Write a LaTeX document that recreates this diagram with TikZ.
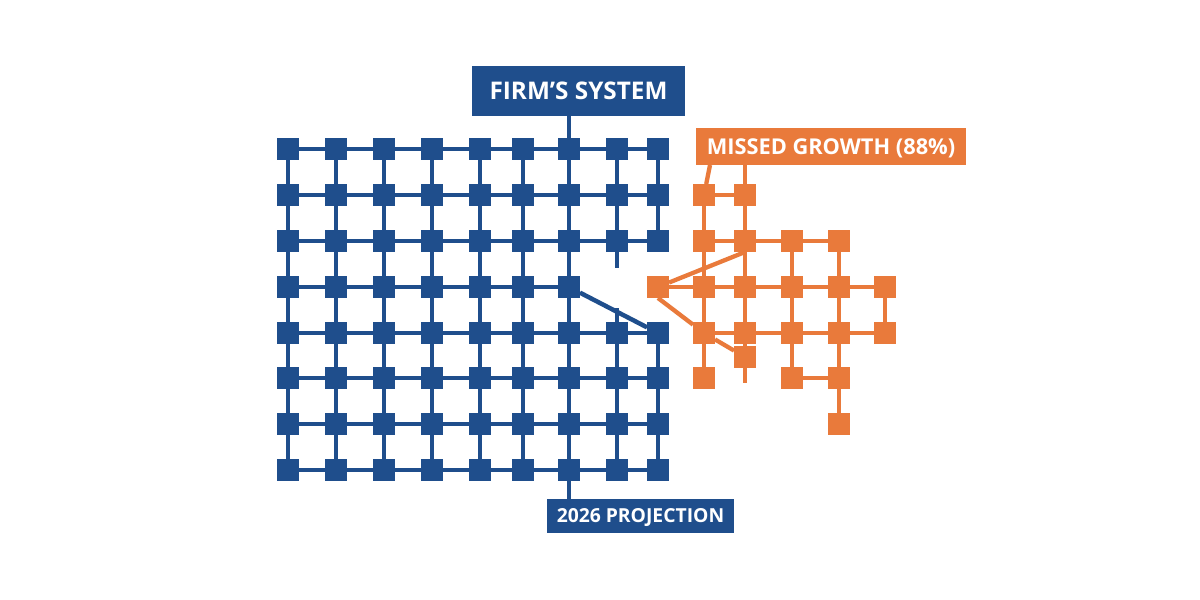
\documentclass[tikz,border=0pt]{standalone}
\usepackage{fontspec}
\setmainfont{Open Sans}
\usetikzlibrary{backgrounds}
\definecolor{nblue}{HTML}{1F4E8C}
\definecolor{norange}{HTML}{E97A3B}
\begin{document}
\begin{tikzpicture}[x=1pt,y=-1pt,
  bsq/.style={fill=nblue,draw=none,minimum size=22pt,inner sep=0pt,outer sep=0pt},
  osq/.style={fill=norange,draw=none,minimum size=22pt,inner sep=0pt,outer sep=0pt},
  bln/.style={draw=nblue,line width=4.5pt},
  oln/.style={draw=norange,line width=4.3pt},
  lbox/.style={text=white,inner sep=0pt,outer sep=0pt,font=\bfseries,text depth=0pt}]
\useasboundingbox (0,0) rectangle (1200,600);

% blue grid
\foreach \c/\x in {1/288,2/336,3/384,4/432,5/480,6/523,7/569,8/617,9/658}{
  \foreach \r/\y in {1/149,2/195,3/241,4/287,5/333,6/378,7/424,8/470}{
    \ifnum\r=4
      \ifnum\c>7 \else \node[bsq] (b\c-\r) at (\x,\y) {}; \fi
    \else
      \node[bsq] (b\c-\r) at (\x,\y) {};
    \fi
  }
}
% labels
\node[lbox,fill=nblue,minimum width=213pt,minimum height=50pt,text height=17.3pt] (title) at (578.5,91)
  {\fontsize{24.3}{24.3}\selectfont FIRM’S SYSTEM};
\node[lbox,fill=nblue,minimum width=187pt,minimum height=34pt,text height=13.8pt] (proj) at (640.5,516)
  {\fontsize{19.3}{19.3}\selectfont 2026 PROJECTION};
\node[lbox,fill=norange,minimum width=270pt,minimum height=37pt,text height=15.6pt] (mg) at (831,146.5)
  {\fontsize{21.8}{21.8}\selectfont MISSED GROWTH (88\%)};

% orange nodes
\node[osq] (oA2) at (704,195) {};
\node[osq] (oB2) at (745,195) {};
\node[osq] (oA3) at (704,241) {};
\node[osq] (oB3) at (745,241) {};
\node[osq] (oC3) at (792,241) {};
\node[osq] (oD3) at (839,241) {};
\node[osq] (oL4) at (658,287) {};
\node[osq] (oA4) at (704,287) {};
\node[osq] (oB4) at (745,287) {};
\node[osq] (oC4) at (792,287) {};
\node[osq] (oD4) at (839,287) {};
\node[osq] (oE4) at (885,287) {};
\node[osq] (oA5) at (704,333) {};
\node[osq] (oB5) at (745,333) {};
\node[osq] (oC5) at (792,333) {};
\node[osq] (oD5) at (839,333) {};
\node[osq] (oE5) at (885,333) {};
\node[osq] (oX) at (745,357) {};
\node[osq] (oA6) at (704,378) {};
\node[osq] (oC6) at (792,378) {};
\node[osq] (oD6) at (839,378) {};
\node[osq] (oD7) at (839,424) {};

\coordinate (s8a) at (617,268);
\coordinate (s8b) at (617,308);
\coordinate (sX) at (745,383);
\coordinate (mgl) at (710,165);

\begin{pgfonlayer}{background}
  \fill[white] (0,0) rectangle (1200,600);
  % blue horizontals
  \foreach \r in {1,2,3,5,6,7,8}{
    \foreach \c [evaluate=\c as \n using int(\c+1)] in {1,...,8}{
      \draw[bln] (b\c-\r) -- (b\n-\r);
    }
  }
  \foreach \c [evaluate=\c as \n using int(\c+1)] in {1,...,6}{
    \draw[bln] (b\c-4) -- (b\n-4);
  }
  % blue verticals
  \foreach \c in {1,...,7}{
    \foreach \r [evaluate=\r as \n using int(\r+1)] in {1,...,7}{
      \draw[bln] (b\c-\r) -- (b\c-\n);
    }
  }
  \foreach \c in {8,9}{
    \foreach \r [evaluate=\r as \n using int(\r+1)] in {1,2,5,6,7}{
      \draw[bln] (b\c-\r) -- (b\c-\n);
    }
  }
  \draw[bln] (b8-3) -- (s8a);
  \draw[bln] (b8-5) -- (s8b);
  \draw[bln] (b7-4) -- (b9-5);
  \draw[bln] (title.south -| b7-1) -- (b7-1);
  \draw[bln] (b7-8) -- (proj.north -| b7-8);

  % orange connectors
  \draw[oln] (mgl) -- (oA2);
  \draw[oln] (mg.south -| oB2) -- (oB2);
  \draw[oln] (oA2) -- (oB2);
  \draw[oln] (oA2) -- (oA3);
  \draw[oln] (oB2) -- (oB3);
  \draw[oln] (oA3) -- (oB3) -- (oC3) -- (oD3);
  \draw[oln] (oA3) -- (oA4);
  \draw[oln] (oB3) -- (oB4);
  \draw[oln] (oC3) -- (oC4);
  \draw[oln] (oD3) -- (oD4);
  \draw[oln] (oL4) -- (oA4) -- (oB4) -- (oC4) -- (oD4) -- (oE4);
  \draw[oln] (oL4) -- (oB3.south);
  \draw[oln] (oL4.south) -- (oA5);
  \draw[oln] (oA4) -- (oA5);
  \draw[oln] (oB4) -- (oB5);
  \draw[oln] (oC4) -- (oC5);
  \draw[oln] (oD4) -- (oD5);
  \draw[oln] (oE4) -- (oE5);
  \draw[oln] (oA5) -- (oB5) -- (oC5) -- (oD5) -- (oE5);
  \draw[oln] (oA5) -- (oX);
  \draw[oln] (oB5) -- (oX) -- (sX);
  \draw[oln] (oA5) -- (oA6);
  \draw[oln] (oC5) -- (oC6);
  \draw[oln] (oC6) -- (oD6);
  \draw[oln] (oD5) -- (oD6);
  \draw[oln] (oD6) -- (oD7);
\end{pgfonlayer}
\end{tikzpicture}
\end{document}
